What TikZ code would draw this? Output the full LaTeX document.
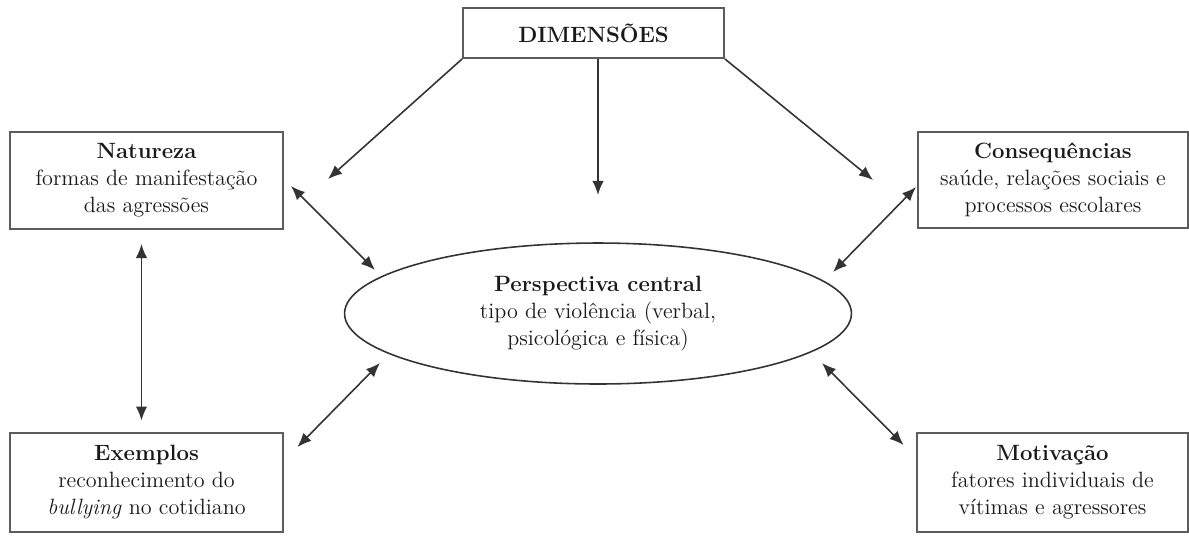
\documentclass[tikz,border=0pt]{standalone}
\usepackage{tikz}
\usetikzlibrary{shapes.geometric,arrows.meta}
\definecolor{boxGray}{rgb}{0.36,0.36,0.36}
\definecolor{arrowGray}{rgb}{0.2,0.2,0.2}
\definecolor{textDark}{rgb}{0.1,0.1,0.1}

\begin{document}
\begin{tikzpicture}[x=0.02cm, y=-0.02cm, font=\fontsize{12.6}{15.4}\selectfont, text=textDark,
  box/.style={draw=boxGray, line width=1.1pt, inner sep=0pt, align=center},
  oval/.style={ellipse, draw=arrowGray, line width=0.9pt, inner sep=0pt, align=center},
  arr/.style={arrowGray, line width=0.9pt, -{Latex[length=8pt,width=6.5pt]}},
  dbl/.style={arrowGray, line width=0.9pt, {Latex[length=8pt,width=6.5pt]}-{Latex[length=8pt,width=6.5pt]}}]
 	\useasboundingbox (0,0) rectangle (1189,559);
 	% boxes
 	\node[box, minimum width=5.22cm, minimum height=1cm] (dim) at (593.5,33) {\textbf{DIMENSÕES}};
 	\node[box, minimum width=5.46cm, minimum height=1.94cm] (nat) at (146.5,180.5)
 	  {\textbf{Natureza}\\formas de manifestação\\das agressões};
 	\node[box, minimum width=5.4cm, minimum height=1.92cm] (cons) at (1053,180)
 	  {\textbf{Consequências}\\saúde, relações sociais e\\processos escolares};
 	\node[box, minimum width=5.46cm, minimum height=1.98cm] (exe) at (146.5,482.5)
 	  {\textbf{Exemplos}\\reconhecimento do\\\textit{bullying} no cotidiano};
 	\node[box, minimum width=5.42cm, minimum height=1.98cm] (mot) at (1052.5,482.5)
 	  {\textbf{Motivação}\\fatores individuais de\\vítimas e agressores};
 	\node[oval, minimum width=10.14cm, minimum height=2.82cm] (ell) at (598,313.5)
 	  {\textbf{Perspectiva central}\\tipo de violência (verbal,\\psicológica e física)};
 	% arrows from the top
 	\coordinate (natIn) at (328,179);
 	\coordinate (ellIn) at (598,195);
 	\coordinate (consIn) at (873,180);
 	\draw[arr] (dim.south west) -- (natIn);
 	\draw[arr] (dim.south -| ellIn) -- (ellIn);
 	\draw[arr] (dim.south east) -- (consIn);
 	% two-way arrows
 	\draw[dbl] ([shift={(7,5.5)}]nat.east) -- ([shift={(-223,-43.5)}]ell.center);
 	\draw[dbl] ([shift={(-5,14)}]nat.south) -- ([shift={(-5,-11.5)}]exe.north);
 	\draw[dbl] ([shift={(13.5,-35.5)}]exe.east) -- ([shift={(-218,49.5)}]ell.center);
 	\draw[dbl] ([shift={(-1,7)}]cons.west) -- ([shift={(235,-41.5)}]ell.center);
 	\draw[dbl] ([shift={(-12.5,-37.5)}]mot.west) -- ([shift={(224,49.5)}]ell.center);
\end{tikzpicture}
\end{document}
